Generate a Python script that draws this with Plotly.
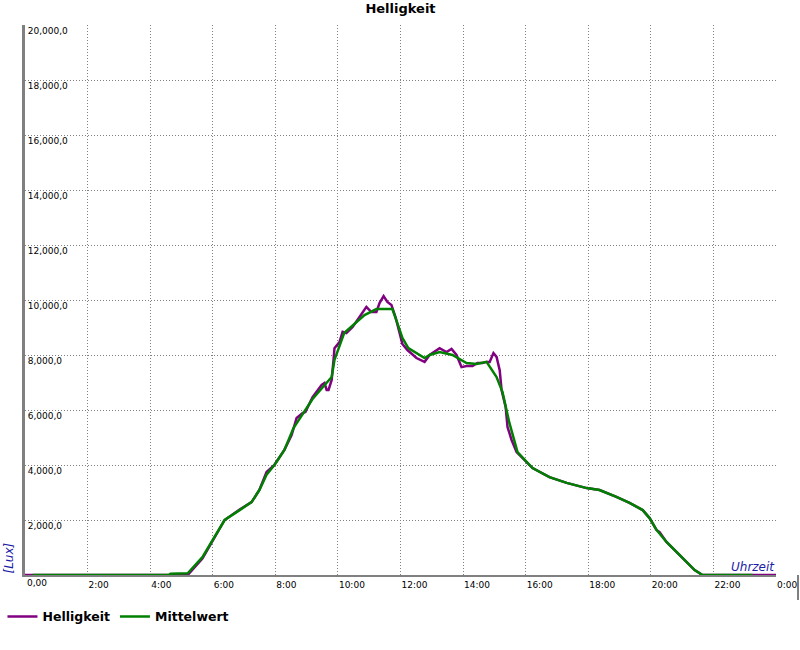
import plotly.graph_objects as go

# Helligkeit (raw), time in decimal hours, value in lux
hell_t = [0, 4.6, 5.2, 5.67, 5.99, 6.38, 6.86, 7.24, 7.49, 7.72, 7.97, 8.29, 8.52, 8.58, 8.68,
          8.87, 8.96, 9.19, 9.48, 9.57, 9.64, 9.70, 9.80, 9.86, 9.89, 10.05, 10.15, 10.27,
          10.47, 10.69, 10.91, 11.07, 11.23, 11.33, 11.46, 11.58, 11.71, 11.84, 11.97, 12.06,
          12.22, 12.51, 12.77, 12.93, 13.25, 13.47, 13.63, 13.79, 13.95, 14.11, 14.30, 14.46,
          14.62, 14.75, 14.85, 14.97, 15.07, 15.17, 15.23, 15.36, 15.42, 15.55, 15.71, 15.90,
          16.12, 16.22, 16.76, 17.31, 17.95, 18.36, 18.90, 19.32, 19.74, 19.96, 20.18, 20.28,
          20.50, 20.82, 21.14, 21.40, 21.65, 24]
hell_v = [0, 0, 0, 600, 1250, 2000, 2380, 2650, 3090, 3750, 4000, 4550, 5090, 5340, 5710,
          5890, 5930, 6470, 6910, 6980, 6730, 6730, 7090, 7820, 8250, 8470, 8840, 8800,
          9020, 9380, 9750, 9560, 9560, 9890, 10140, 9930, 9820, 9380, 8800, 8400,
          8180, 7890, 7750, 8000, 8250, 8110, 8220, 8000, 7560, 7600, 7600, 7710,
          7710, 7750, 7750, 8070, 7930, 7450, 6730, 6110, 5380, 4910, 4470, 4250,
          4000, 3890, 3560, 3350, 3160, 3090, 2840, 2620, 2360, 2070, 1640, 1560,
          1200, 840, 470, 180, 0, 0]

# Mittelwert (moving average)
mittel_t = [0.25, 4.6, 4.65, 5.2, 5.67, 5.99, 6.38, 6.86, 7.24, 7.49, 7.72, 7.97, 8.29, 8.58,
            9.19, 9.80, 9.89, 10.20, 10.69, 10.85, 11.23, 11.74, 11.90, 12.06, 12.25, 12.44,
            12.77, 12.93, 13.25, 13.66, 13.95, 14.11, 14.43, 14.75, 15.07, 15.26, 15.48, 15.65,
            15.74, 16.09, 16.22, 16.76, 17.31, 17.95, 18.36, 18.90, 19.32, 19.74, 19.96, 20.18,
            20.50, 20.82, 21.14, 21.40, 21.65, 23.25]
mittel_v = [0, 0, 50, 60, 650, 1270, 2000, 2360, 2650, 3090, 3650, 4000, 4550, 5340,
            6400, 7200, 7820, 8800, 9270, 9450, 9670, 9670, 9160, 8620, 8250, 8110,
            7890, 8000, 8110, 8000, 7820, 7710, 7670, 7750, 7200, 6650, 5530, 4800,
            4470, 4040, 3890, 3560, 3350, 3160, 3090, 2840, 2620, 2360, 2070, 1640,
            1200, 840, 470, 180, 0, 0]

x_tickvals = list(range(0, 25, 2))
x_ticktext = ["0,00", "2:00", "4:00", "6:00", "8:00", "10:00", "12:00", "14:00",
              "16:00", "18:00", "20:00", "22:00", "0:00"]
y_tickvals = list(range(0, 20001, 2000))
y_ticktext = [""] + ["{:,},0".format(v) for v in y_tickvals[1:]]

FONT = "DejaVu Sans"
GRID_DASH = "1px,2px"

fig = go.Figure()
fig.add_trace(go.Scatter(x=hell_t, y=hell_v, mode="lines", name="<b>Helligkeit</b>",
                         line=dict(color="#800080", width=2.5), cliponaxis=False))
fig.add_trace(go.Scatter(x=mittel_t, y=mittel_v, mode="lines", name="<b>Mittelwert</b>",
                         line=dict(color="#008000", width=2.5), cliponaxis=False))

fig.update_layout(
    width=800, height=650,
    margin=dict(l=25, r=24, t=25, b=75, autoexpand=False),
    paper_bgcolor="white", plot_bgcolor="white",
    font=dict(family=FONT, size=9, color="black"),
    title=dict(text="<b>Helligkeit</b>", x=0.5, xanchor="center", xref="paper",
               y=(650 - 8) / 650, yref="container", yanchor="middle",
               font=dict(family=FONT, size=13, color="black")),
    showlegend=True,
    legend=dict(orientation="h", x=-0.03, xanchor="left", y=-0.076, yanchor="middle",
                font=dict(family=FONT, size=12.5, color="black"),
                bgcolor="rgba(0,0,0,0)", itemwidth=30, tracegroupgap=0),
    xaxis=dict(range=[0, 24], tickvals=x_tickvals, ticktext=[""] + x_ticktext[1:],
               ticklabelposition="outside right", ticks="", automargin=False,
               showgrid=True, gridcolor="#808080", griddash=GRID_DASH, gridwidth=1,
               showline=True, linecolor="#808080", linewidth=2,
               zeroline=False, layer="below traces",
               tickfont=dict(family=FONT, size=9, color="black")),
    yaxis=dict(range=[0, 20000], tickvals=y_tickvals, ticktext=y_ticktext,
               ticklabelposition="inside bottom", ticks="", automargin=False,
               showgrid=True, gridcolor="#808080", griddash=GRID_DASH, gridwidth=1,
               showline=True, linecolor="#808080", linewidth=3,
               zeroline=False, layer="below traces",
               tickfont=dict(family=FONT, size=9, color="black")),
    annotations=[
        dict(text=x_ticktext[0], xref="x", yref="paper", x=x_tickvals[0], y=0,
             xanchor="left", yanchor="top", showarrow=False, borderpad=0, xshift=1, yshift=-2,
             font=dict(family=FONT, size=9, color="black")),
        dict(text="<i>Uhrzeit</i>", xref="paper", yref="paper", x=1, y=0,
             xanchor="right", yanchor="bottom", showarrow=False, borderpad=0,
             font=dict(family=FONT, size=12, color="#1c1ca8")),
        dict(text="<i>[Lux]</i>", xref="paper", yref="paper", x=(8 - 25) / 751, y=0,
             xanchor="center", yanchor="bottom", showarrow=False, textangle=-90,
             borderpad=0, font=dict(family=FONT, size=12, color="#1c1ca8")),
    ],
    shapes=[dict(type="line", xref="paper", yref="paper",
                 x0=(798 - 25) / 751, x1=(798 - 25) / 751, y0=0, y1=-25 / 550,
                 line=dict(color="black", width=1))],
)

fig.write_html("out.html", config={"displayModeBar": False},
               post_script="document.body.style.margin='0';document.body.style.overflow='hidden';")
